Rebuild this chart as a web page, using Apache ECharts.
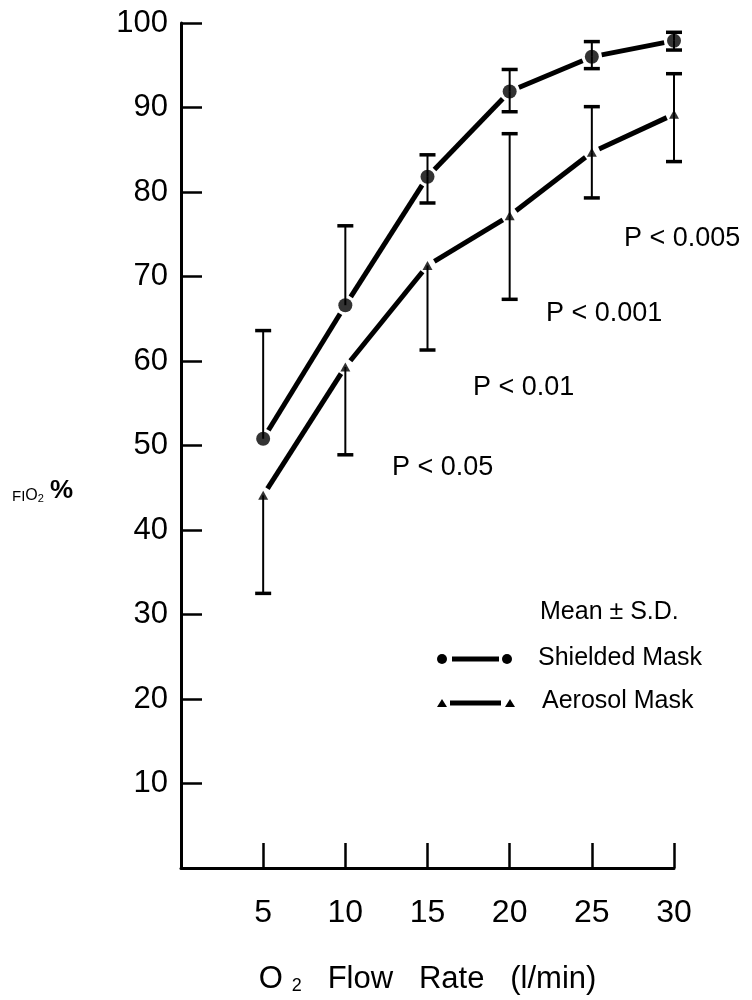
<!DOCTYPE html>
<html>
<head>
<meta charset="utf-8">
<script src="https://cdn.jsdelivr.net/npm/echarts@6/dist/echarts.min.js"></script>
<style>
html,body{margin:0;padding:0;background:#fff;}
#chart{width:752px;height:1000px;}
</style>
</head>
<body>
<div id="chart"></div>
<script>
// ---- data ----
var flowRates = [5, 10, 15, 20, 25, 30];
var shieldedMean  = [50.8, 66.6, 81.8, 91.9, 96.0, 97.9];
var shieldedUpper = [63.6, 76.0, 84.4, 94.5, 97.8, 98.9];
var shieldedLower = [null, null, 78.7, 89.5, 94.6, 96.8];
var aerosolMean   = [44.1, 59.3, 71.3, 77.2, 84.7, 89.2];
var aerosolUpper  = [null, null, null, 86.9, 90.1, 94.0];
var aerosolLower  = [32.5, 48.9, 61.3, 67.3, 79.3, 83.6];
var xTicks = [0, 5, 10, 15, 20, 25, 30];
var yTicks = [0, 10, 20, 30, 40, 50, 60, 70, 80, 90, 100];
var pLabels = ['P < 0.05', 'P < 0.01', 'P < 0.001', 'P < 0.005'];

var FONT = 'Liberation Sans';

function segData(mean) {
  var out = [];
  for (var i = 0; i < flowRates.length - 1; i++) {
    out.push([flowRates[i], mean[i], flowRates[i + 1], mean[i + 1]]);
  }
  return out;
}
function barData(mean, upper, lower) {
  var out = [];
  for (var i = 0; i < flowRates.length; i++) {
    if (upper[i] != null) out.push([flowRates[i], mean[i], upper[i]]);
    if (lower[i] != null) out.push([flowRates[i], mean[i], lower[i]]);
  }
  return out;
}
function segRender(gap) {
  return function (params, api) {
    var p0 = api.coord([api.value(0), api.value(1)]);
    var p1 = api.coord([api.value(2), api.value(3)]);
    var dx = p1[0] - p0[0], dy = p1[1] - p0[1];
    var len = Math.sqrt(dx * dx + dy * dy);
    var ux = dx / len, uy = dy / len;
    return {
      type: 'line',
      shape: { x1: p0[0] + ux * gap, y1: p0[1] + uy * gap, x2: p1[0] - ux * gap, y2: p1[1] - uy * gap },
      style: { stroke: '#000', lineWidth: 5, lineCap: 'butt' }
    };
  };
}
function barRender(params, api) {
  var p0 = api.coord([api.value(0), api.value(1)]);
  var p1 = api.coord([api.value(0), api.value(2)]);
  return {
    type: 'group',
    children: [
      { type: 'line', shape: { x1: p0[0], y1: p0[1], x2: p1[0], y2: p1[1] }, style: { stroke: '#000', lineWidth: 2 } },
      { type: 'line', shape: { x1: p1[0] - 8, y1: p1[1], x2: p1[0] + 8, y2: p1[1] }, style: { stroke: '#000', lineWidth: 3.5 } }
    ]
  };
}

var chart = echarts.init(document.getElementById('chart'), null, { renderer: 'canvas' });

var option = {
  backgroundColor: '#fff',
  animation: false,
  grid: { left: 181, right: 78, top: 23, bottom: 127, containLabel: false },
  xAxis: {
    type: 'value', min: 0, max: 30, interval: 5,
    axisLine: { lineStyle: { color: '#000', width: 3 } },
    axisTick: { inside: true, length: 25, lineStyle: { color: '#000', width: 2.5 } },
    axisLabel: { color: '#000', fontFamily: FONT, fontSize: 32, margin: 29,
      formatter: function (v) { return v === 0 ? '' : String(v); } },
    splitLine: { show: false },
    name: '{a|O}{s|2}{a|   Flow   Rate   (l/min)}',
    nameLocation: 'middle', nameGap: 96,
    nameTextStyle: { rich: {
      a: { fontFamily: FONT, fontSize: 31, color: '#000' },
      s: { fontFamily: FONT, fontSize: 18, color: '#000', verticalAlign: 'bottom', padding: [12, 0, 0, 9] }
    } }
  },
  yAxis: {
    type: 'value', min: 0, max: 100, interval: 10,
    axisLine: { lineStyle: { color: '#000', width: 3 } },
    axisTick: { inside: true, length: 21, lineStyle: { color: '#000', width: 2.5 } },
    axisLabel: { color: '#000', fontFamily: FONT, fontSize: 31, margin: 13,
      formatter: function (v) { return v === 0 ? '' : String(v); } },
    splitLine: { show: false }
  },
  graphic: [
    { type: 'text', left: 12, top: 478, style: {
      text: '{f|FI}{o|O}{s|2}{p|%}',
      rich: {
        f: { fontFamily: FONT, fontSize: 15, fill: '#000', verticalAlign: 'bottom' },
        o: { fontFamily: FONT, fontSize: 16, fill: '#000', verticalAlign: 'bottom' },
        s: { fontFamily: FONT, fontSize: 11, fill: '#000', verticalAlign: 'bottom', padding: [8, 4, 0, 0] },
        p: { fontFamily: FONT, fontSize: 26, fontWeight: 'bold', fill: '#000', verticalAlign: 'bottom', padding: [0, 0, 0, 2] }
      } } },
    { type: 'text', left: 392, top: 454, style: { text: pLabels[0], font: '27px "Liberation Sans"', fill: '#000' } },
    { type: 'text', left: 473, top: 374, style: { text: pLabels[1], font: '27px "Liberation Sans"', fill: '#000' } },
    { type: 'text', left: 546, top: 300, style: { text: pLabels[2], font: '27px "Liberation Sans"', fill: '#000' } },
    { type: 'text', left: 624, top: 225, style: { text: pLabels[3], font: '27px "Liberation Sans"', fill: '#000' } },
    // legend
    { type: 'text', left: 540, top: 600, style: { text: 'Mean ± S.D.', font: '25px "Liberation Sans"', fill: '#000' } },
    { type: 'text', left: 538, top: 646, style: { text: 'Shielded Mask', font: '25px "Liberation Sans"', fill: '#000' } },
    { type: 'text', left: 542, top: 689, style: { text: 'Aerosol Mask', font: '25px "Liberation Sans"', fill: '#000' } },
    { type: 'circle', shape: { cx: 442, cy: 659, r: 5 }, style: { fill: '#000' } },
    { type: 'circle', shape: { cx: 507, cy: 659, r: 5 }, style: { fill: '#000' } },
    { type: 'line', shape: { x1: 452, y1: 659, x2: 499, y2: 659 }, style: { stroke: '#000', lineWidth: 5 } },
    { type: 'polygon', shape: { points: [[442, 699], [437, 707], [447, 707]] }, style: { fill: '#000' } },
    { type: 'polygon', shape: { points: [[510, 699], [505, 707], [515, 707]] }, style: { fill: '#000' } },
    { type: 'line', shape: { x1: 450, y1: 703, x2: 501, y2: 703 }, style: { stroke: '#000', lineWidth: 5 } }
  ],
  series: [
    { type: 'custom', name: 'Shielded line', renderItem: segRender(10), data: segData(shieldedMean), encode: { x: [0, 2], y: [1, 3] }, silent: true },
    { type: 'custom', name: 'Aerosol line', renderItem: segRender(8), data: segData(aerosolMean), encode: { x: [0, 2], y: [1, 3] }, silent: true },
    { type: 'custom', name: 'Shielded SD', renderItem: barRender, data: barData(shieldedMean, shieldedUpper, shieldedLower), encode: { x: 0, y: [1, 2] }, silent: true },
    { type: 'custom', name: 'Aerosol SD', renderItem: barRender, data: barData(aerosolMean, aerosolUpper, aerosolLower), encode: { x: 0, y: [1, 2] }, silent: true },
    { type: 'scatter', name: 'Shielded Mask', symbol: 'circle', symbolSize: 14, itemStyle: { color: '#000' },
      data: flowRates.map(function (x, i) { return [x, shieldedMean[i]]; }) },
    { type: 'scatter', name: 'Aerosol Mask', symbol: 'triangle', symbolSize: [10, 9], itemStyle: { color: '#000' },
      data: flowRates.map(function (x, i) { return [x, aerosolMean[i]]; }) }
  ]
};
chart.setOption(option);
</script>
</body>
</html>
